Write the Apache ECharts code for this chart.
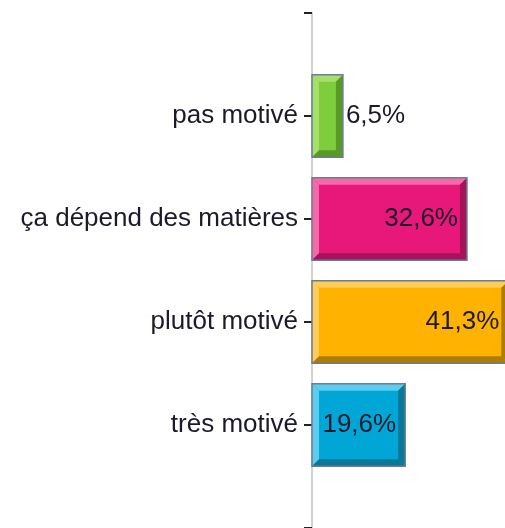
<!DOCTYPE html>
<html>
<head>
<meta charset="utf-8">
<script src="https://cdn.jsdelivr.net/npm/echarts@6/dist/echarts.min.js"></script>
<style>
html,body{margin:0;padding:0;background:#fff;}
#chart{width:505px;height:528px;}
</style>
</head>
<body>
<div id="chart"></div>
<script>
const categories = ['pas motivé', 'ça dépend des matières', 'plutôt motivé', 'très motivé'];
const values = [6.5, 32.6, 41.3, 19.6];
const valueLabels = ['6,5%', '32,6%', '41,3%', '19,6%'];
const labelInside = [false, true, true, true];

const palette = [
  { face: '#7dcd3c', light: '#a6df6c', dark: '#5a982a' },
  { face: '#e8177a', light: '#f46aa8', dark: '#a3145a' },
  { face: '#ffb300', light: '#ffcd5a', dark: '#ad7d08' },
  { face: '#00a6d6', light: '#5ccdec', dark: '#0a7896' }
];

const axisCats = [''].concat(categories, ['']);
const seriesData = values.map((v, i) => [v, categories[i]]);

function renderItem(params, api) {
  const i = params.dataIndex;
  const v = api.value(0);
  const ci = api.value(1);
  const s = api.coord([0, ci]);
  const e = api.coord([v, ci]);
  const h = api.size([0, 1])[1] * 0.8;
  const x0 = s[0], x1 = e[0], y0 = s[1] - h / 2, y1 = s[1] + h / 2;
  const b = 7;
  const c = palette[i];
  const inside = labelInside[i];
  return {
    type: 'group',
    children: [
      { type: 'rect', shape: { x: x0, y: y0, width: x1 - x0, height: h }, style: { fill: c.face } },
      { type: 'polygon', shape: { points: [[x0, y0], [x1, y0], [x1 - b, y0 + b], [x0 + b, y0 + b]] }, style: { fill: c.light } },
      { type: 'polygon', shape: { points: [[x0, y0], [x0 + b, y0 + b], [x0 + b, y1 - b], [x0, y1]] }, style: { fill: c.light } },
      { type: 'polygon', shape: { points: [[x0, y1], [x0 + b, y1 - b], [x1 - b, y1 - b], [x1, y1]] }, style: { fill: c.dark } },
      { type: 'polygon', shape: { points: [[x1, y0], [x1, y1], [x1 - b, y1 - b], [x1 - b, y0 + b]] }, style: { fill: c.dark } },
      { type: 'rect', shape: { x: x0, y: y0, width: x1 - x0, height: h }, style: { fill: 'none', stroke: '#6b7d96', lineWidth: 1.5 } },
      {
        type: 'text',
        style: {
          text: valueLabels[i],
          x: inside ? x1 - 9 : x1 + 3,
          y: s[1],
          align: inside ? 'right' : 'left',
          verticalAlign: 'middle',
          fontSize: 26,
          fontFamily: 'Liberation Sans',
          fill: '#1a1a2a'
        }
      }
    ]
  };
}

const chart = echarts.init(document.getElementById('chart'));
chart.setOption({
  animation: false,
  grid: { left: 312, top: 13, right: 0, height: 515, containLabel: false },
  xAxis: { type: 'value', min: 0, max: 40.6, show: false },
  yAxis: {
    type: 'category',
    data: axisCats,
    inverse: true,
    boundaryGap: false,
    axisLine: { show: true, lineStyle: { color: '#d2d2d2', width: 2 } },
    axisTick: { show: true, length: 8, lineStyle: { color: '#222', width: 2 } },
    axisLabel: { margin: 14, fontSize: 26, fontFamily: 'Liberation Sans', color: '#1a1a2a' },
    splitLine: { show: false }
  },
  series: [{
    type: 'custom',
    renderItem: renderItem,
    encode: { x: 0, y: 1 },
    data: seriesData,
    clip: false
  }]
});
</script>
</body>
</html>
